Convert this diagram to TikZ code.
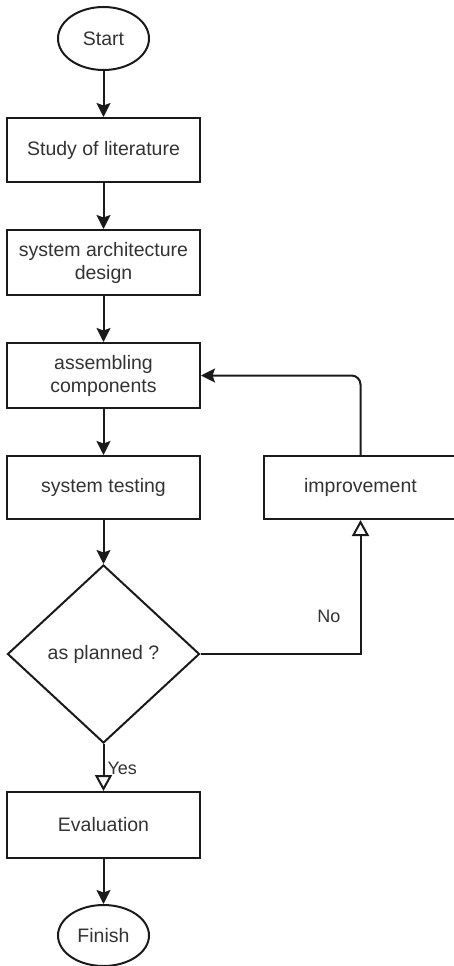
\documentclass[tikz,border=0pt]{standalone}
\usepackage{fontspec}
\setmainfont{Liberation Sans}
\usetikzlibrary{shapes.geometric,arrows.meta}
\definecolor{txt}{HTML}{333333}
\definecolor{ln}{HTML}{1A1A1A}
\begin{document}
\begin{tikzpicture}[x=1pt,y=-1pt,
  every node/.style={font=\fontsize{19.5}{23}\selectfont, text=txt, align=center},
  procbox/.style={draw=ln, line width=2pt, rectangle, minimum width=193pt, inner sep=0pt},
  terminal/.style={draw=ln, line width=2pt, ellipse, minimum width=91pt, inner sep=0pt},
  decision/.style={draw=ln, line width=2pt, diamond, minimum width=192pt, minimum height=178pt, inner sep=0pt},
  flow/.style={draw=ln, line width=2pt, -{Stealth[length=14pt,width=14pt,inset=2.5pt]}},
  openflow/.style={draw=ln, line width=2pt, -{Triangle[open,length=16pt,width=17pt,fill=white]}},
  lbl/.style={font=\fontsize{18}{21}\selectfont}]
\clip (0,0) rectangle (454,966);
\useasboundingbox (0,0) rectangle (454,966);

% main column
\node[terminal, minimum height=63pt] (start) at (103.5,38.5) {Start};
\node[procbox, minimum height=64pt] (lit) at (103.5,150) {Study of literature};
\node[procbox, minimum height=65pt] (arch) at (103.5,262.5) {system architecture\\design};
\node[procbox, minimum height=65pt] (asm) at (103.5,375.5) {assembling\\components};
\node[procbox, minimum height=63pt] (test) at (103.5,487.5) {system testing};
\node[decision] (dec) at (103.5,654) {as planned ?};
\node[procbox, minimum height=66pt] (eval) at (103.5,825) {Evaluation};
\node[terminal, minimum height=61pt] (fin) at (103.5,935.5) {Finish};

% side branch
\node[procbox, minimum height=63pt] (imp) at (360.5,487.5) {improvement};
\coordinate (noCorner) at (360.5,654);
\coordinate (backCorner) at (360.5,375.5);

% connectors
\draw[flow] (start) -- (lit);
\draw[flow] (lit) -- (arch);
\draw[flow] (arch) -- (asm);
\draw[flow] (asm) -- (test);
\draw[flow] (test) -- (dec);
\draw[openflow] (dec) -- (eval);
\draw[flow] (eval) -- (fin);
\draw[openflow] (dec.east) -- (noCorner) -- (imp.south);
\draw[flow, rounded corners=9pt] (imp.north) -- (backCorner) -- (asm.east);

% branch labels
\node[lbl, anchor=west] (yes) at (104,768) {Yes};
\node[lbl] (no) at (329,616) {No};
\end{tikzpicture}
\end{document}
